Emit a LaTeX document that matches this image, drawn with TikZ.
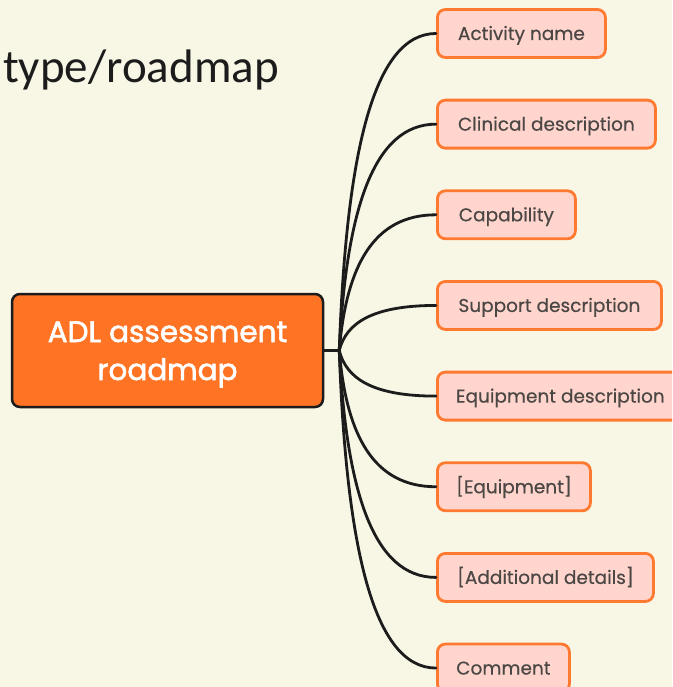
\documentclass[tikz,border=0pt]{standalone}
\usepackage{fontspec}
\setmainfont{Poppins}
\newfontfamily\titlefont{Carlito}
\newfontfamily\leaffont[FakeBold=0.4]{Poppins}
\newfontfamily\rootfont[FakeBold=2]{Poppins}
\usepackage{tikz}
\usetikzlibrary{positioning,calc}
\definecolor{cream}{HTML}{F8F6E4}
\definecolor{tangerine}{HTML}{FF7424}
\definecolor{ember}{HTML}{FF7A30}
\definecolor{blush}{HTML}{FFD5CD}
\definecolor{ink}{HTML}{1C1C1C}
\definecolor{slate}{HTML}{4A4744}
\tikzset{
  rootbox/.style={
    rectangle, rounded corners=8pt, draw=ink, fill=tangerine, line width=2.5pt,
    minimum width=311pt, minimum height=113pt,
    text=white, align=center, inner sep=0pt,
    text height=59pt, text depth=0pt,
    font=\rootfont\fontsize{29.5}{38}\selectfont
  },
  leafbox/.style={
    rectangle, rounded corners=8pt, draw=ember, fill=blush, line width=2.8pt,
    minimum width=#1, minimum height=48pt,
    text=slate, inner sep=0pt, text height=13pt, text depth=0pt,
    font=\leaffont\fontsize{18.5}{22}\selectfont
  },
  leafbox/.default=150pt,
  branch/.style={draw=ink, line width=2.8pt, line cap=round}
}

\begin{document}
\begin{tikzpicture}[x=1pt, y=-1pt]

% Page and background
\fill[cream] (0,0) rectangle (672,687);
\clip (0,0) rectangle (672,687);

% Title
\node[anchor=base west, inner sep=0pt, text=ink, font=\titlefont\fontsize{47}{52}\selectfont]
  (title) at (3,83) {type/roadmap};

% Root and junction
\node[rootbox] (root) at (167.5,350.5) {ADL assessment\\roadmap};
\coordinate[right=15pt of root.east] (jn);
\draw[branch] (root.east) -- (jn);

% Leaves with their branches
\foreach \nm/\txt/\bw [count=\i from 0] in {
    act/Activity name/168, clin/Clinical description/218,
    cap/Capability/138, sup/Support description/224,
    equ/Equipment description/246, eqp/{[Equipment]}/153,
    add/{[Additional details]}/216, com/Comment/132} {
  \node[leafbox=\bw pt, anchor=west] (\nm) at (436,33.5+90.65*\i) {\txt};
  \draw[branch] (jn) .. controls ($(jn)!0.62!(jn |- \nm.west) + (7,0)$)
    and ($(jn |- \nm.west) + (34,0)$) .. (\nm.west);
}

\end{tikzpicture}
\end{document}
